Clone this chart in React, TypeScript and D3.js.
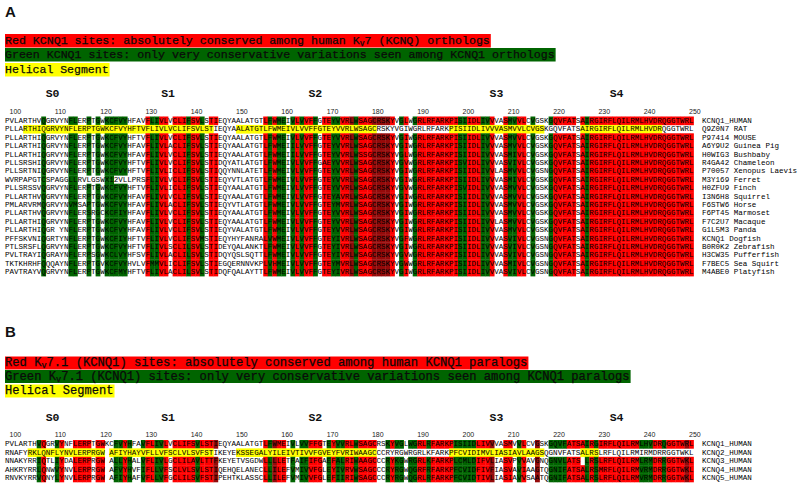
import React from 'react';
import * as d3 from 'd3';

const FIRST_RESIDUE = 99;
const N_COLUMNS = 152;

const positionTicks = [100, 110, 120, 130, 140, 150, 160, 170, 180, 190, 200, 210, 220, 230, 240, 250];
const segmentLabels = ['S0', 'S1', 'S2', 'S3', 'S4'];
const segmentCenters = [109, 134.5, 167, 207, 233.5];

const orthologNames = [
  'KCNQ1_HUMAN', 'Q9Z0N7 RAT', 'P97414 MOUSE', 'A6Y9U2 Guinea Pig', 'H0WIG3 Bushbaby',
  'R4GA42 Chameleon', 'P70057 Xenopus Laevis', 'M3Y169 Ferret', 'H0ZFU9 Finch', 'I3N6H8 Squirrel',
  'F6STW6 Horse', 'F6PT45 Marmoset', 'F7C2U7 Macaque', 'G1L5M3 Panda', 'KCNQ1 Dogfish',
  'B0R0K2 Zebrafish', 'H3CW35 Pufferfish', 'F7BEC5 Sea Squirt', 'M4ABE0 Platyfish',
];

// residues 99-154
const orthologSeqStart = [
  'PVLARTHVQGRVYNFLERPTGWKCFVYHFAVFLIVLVCLIFSVLSTIEQYAALATG',
  'PLLARTHIQGRVYNFLERPTGWKCFVYHFTVFLIVLVCLIFSVLSTIEQYAALATG',
  'PLLARTHIQGRVYNFLERPTGWKCFVYHFTVFLIVLVCLIFSVLSTIEQYAALATG',
  'PLLARTHIQGRVYNFLERPTGWKCFVYHFAVFLIVLACLIFSVLSTIEQYAALATG',
  'PLLARTHIQGRVYNFLERPTGWKCFVYHFAVFLIVLVCLIFSVLSTIEQYAALATG',
  'PLLSRSHIQGRVYNFLERPTGWKCFVYHFTVFLIVLVCLIFSVLSTIDQYATLATG',
  'PLLSRTNIQGRVYNFLERPTGWKCFVYHFTVFLIVLICLIFSVLSTIQQYNNLATE',
  'WVRPAPGTCSPAGGLLRVLGSWX12VLLPRSFLIVLVCLIFSVLSTIEQYVTLATG',
  'PLLSRSSVQGRVYNFLERPTGWKCFVYHFTVFLIVLICLIFSVLSTIEQYAALATG',
  'PLLARTHVQGRVYNFLERPTGWKCFVYHFAVFLIVLVCLIFSVLSTIEQYAALATG',
  'PMLARVRMQGRVYNVMSAPTGWKCFVYHFAVFLIVLACLIFSVLSTIEQYVTLATG',
  'PLLARTHVQGRVYNFLERSRGCKCFIYHFAVFLIVLVCLIFSVLSTIEQYAALATG',
  'PLLARTHIQGRVYNFLERPTGWKCFVYHFAVFLIVLVCLIFSVLSTIEQYAALATG',
  'PLLARTHIQGR YNFLERPTGWKCFVYHFAVFLIVLVCLIFSVLSTIEQYVALATG',
  'PFFSKVNIQGRTYNFLERPTGWKCFIYHFTVFLIVLVCLIFSVMSTIEQYHYFANR',
  'PTLSRSFLQGRVYNFLERPTGWKCFVYHFTVFLIVLSCLILSVLSTIDEYQALANK',
  'PVLTRAYIQGRAYNFLERPSGWKCLVYHFSVFLIVLACLILSVLSTIDQYQSLSQT',
  'TKTKHRHFQQQAYNFLERPTGVKCFVYHVLVFMMVLICLIFSVLSTIEGQERNNVK',
  'PAVTRAYVQGRVYNFLERPTGWKCFMYHFTVFLIVLACLILSVLSTIDQFQALAYT',
];

// residues 155-214
const orthologSeqMiddle = [
  'TLFWMEIVLVVFFGTEYVVRLWSAGCRSKYVGLWGRLRFARKPISIIDLIVVVASMVVLC',
  'TLFWMEIVLVVFFGTEYVVRLWSAGCRSKYVGIWGRLRFARKPISIIDLIVVVASMVVLC',
  'TLFWMEIVLVVFFGTEYVVRLWSAGCRSKYVGIWGRLRFARKPISIIDLIVVVASMVVLC',
  'TLFWMEIILVVFFGTEYVVRLWSAGCRSKYVGIWGRLRFARKPISIIDLIVVVASMVVLC',
  'TLFWMEIILVVFFGTEYVVRLWSSGCRSKYVGLWGRLRFARKPISIIDLIVVVASMIVLC',
  'TLFWMEIVLVVFFGAEYVVRLWSAGCRSKYVGVWGRLRFARKPISVIDLIVVVASVIVLC',
  'TLFWMEIVLVVFFGTEYVVRLWSAGCRSKYVGIWGRLRFARKPISIIDLIVVLASMVVLC',
  'TLFWMEIVLVVFFGTEYVVRLWSAGCRSKYVGIWGRLRFARKPISIIDLIVVVASMIVLC',
  'TLFWMEIVLVVFFGTEYVVRLWSAGCRSKYVGVWGRLRFARKPISVIDLIVVVASMVVLC',
  'TLFWMEIVLVVFFGTEYAVRLWSAGCRSKYVGIWGRLRFARKPISIIDLIVVVASMVVLC',
  'TLFWMEIVLVVFFGTEYMVRLWSAGCRSKYVGIWGRLRFARKPISIIDLIVVVASMVVLC',
  'TLFWMEIVLVVFFGTEYVVRLWSAGCRSKYVGIWGRLRFARKPISIIDLIVVVASMVVLC',
  'TLFWMEIVLVVFFGTEYVVRLWSAGCRSKYVGIWGRLRFARKPISIIDLIVVLASMVVLC',
  'TLFWMEIVLVVFFGTEYVVRLWSAGCRSKYVGIWGRLRFARKPISIIDLIVVVASMVVLC',
  'ALVWMEIVLVVFFGTEYIVRLWSAGCRSKYVGFWGRLRFARKPISIIDLIVVVASVIVLC',
  'TLFWMEIVLVVFFGTEYIVRLWSAGCRSKYVGIWGRLRFARKPISIIDLIVVVASVIVLC',
  'TLFWMEIVLVVFFGTEYIVRLWSAGCRSKYVGVWGRLRFARKPISIIDLIVVVASVIVLC',
  'PLVHMEIVLVVFFGTEYMVRLWSAGCRSKYVGWWGRLRFARKPISIIDLIVVVASMIVLC',
  'TLFWMEIVLVVFFGTEYIVRLWSAGCRSKYVGIWGRLRFARKPISIIDLIVVVASVIVLC',
];

// residues 215-250
const orthologSeqEnd = [
  'VGSKGQVFATSAIRGIRFLQILRMLHVDRQGGTWRL', 'VGSKGQVFATSAIRGIRFLQILRMLHVDRQGGTWRL',
  'VGSKGQVFATSAIRGIRFLQILRMLHVDRQGGTWRL', 'VGSKGQVFATSAIRGIRFLQILRMLHVDRQGGTWRL',
  'VGSKGQVFATSAIRGIRFLQILRMLHVDRQGGTWRL', 'VGSKGQVFATSAIRGIRFLQILRMLHVDRQGGTWRL',
  'VGSNGQVFATSAIRGIRFLQILRMLHVDRQGGTWRL', 'VGSKGQVFATSAIRGIRFLQILRMLHVDRQGGTWRL',
  'VGSKGQVFATSAIRGIRFLQILRMLHVDRQGGTWRL', 'VGSKGQVFATSAIRGIRFLQILRMLHVDRQGGTWRL',
  'VGSKGQVFATSAIRGIRFLQILRMLHVDRQGGTWRL', 'VGSKGQVFATSAIRGIRFLQILRMLHVDRQGGTWRL',
  'VGSKGQVFATSAIRGIRFLQILRMLHVDRQGGTWRL', 'VGSKGQVFATSAIRGIRFLQILRMLHVDRQGGTWRL',
  'VGSNGQVFATSAIRGIRFLQILRMLHVDRQGGTWRL', 'VGSNGQVFATSAIRGIRFLQILRMLHVDRQGGTWRL',
  'VGSNGQVFATSAIRGIRFLQILRMLHVDRQGGTWRL', 'VGSNGQVFATSAIRGIRFLQILRMLHVDRQGGTWRL',
  'VGSNGQVFATSAIRGIRFLQILRMLHVDRQGGTWRL',
];

// [first residue, last residue, class] r = conserved, g = conservative, d = dark red
const orthologConservation: [number, number, string][] = [
  [107, 107, 'g'], [113, 114, 'g'], [117, 117, 'g'], [119, 119, 'g'], [121, 125, 'g'],
  [130, 130, 'r'], [131, 132, 'g'], [133, 134, 'r'], [136, 138, 'r'], [139, 139, 'g'],
  [140, 141, 'r'], [142, 142, 'g'], [144, 145, 'r'], [156, 156, 'r'], [157, 157, 'g'],
  [158, 158, 'r'], [159, 160, 'g'], [162, 162, 'g'], [163, 163, 'r'], [164, 164, 'g'],
  [165, 166, 'r'], [167, 167, 'g'], [169, 170, 'r'], [171, 172, 'g'], [173, 174, 'r'],
  [175, 175, 'd'], [176, 176, 'g'], [177, 179, 'r'], [180, 183, 'd'], [184, 184, 'r'],
  [186, 186, 'g'], [187, 187, 'r'], [189, 189, 'g'], [190, 198, 'r'], [199, 200, 'g'],
  [201, 203, 'r'], [204, 205, 'g'], [206, 206, 'r'], [209, 209, 'r'], [210, 211, 'g'],
  [212, 213, 'r'], [215, 215, 'g'], [219, 219, 'g'], [220, 224, 'r'], [226, 226, 'r'],
  [227, 227, 'g'], [228, 250, 'r'],
];
const orthologHelices: [number, number][] = [[103, 144], [150, 180], [197, 217], [226, 243]];
const orthologHelixRow = 1;
const ferretRow = 7;
const ferretUnshaded = [117, 119, 123, 124, 125];

const paralogNames = ['KCNQ1_HUMAN', 'KCNQ2_HUMAN', 'KCNQ3_HUMAN', 'KCNQ4_HUMAN', 'KCNQ5_HUMAN'];
const paralogSeqs = [
  'PVLARTHVQGRVYNFLERPTGWKCFVYHFAVFLIVLVCLIFSVLSTIEQYAALATGTLFWMEIVLVVFFGTEYVVRLWSAGCRSKYVGLWGRLRFARKPISIIDLIVVVASMVVLCVGSKGQVFATSAIRGIRFLQILRMLHVDRQGGTWRL',
  'RNAFYRKLQNFLYNVLERPRGW-AFIYHAYVFLLVFSCLVLSVFSTIKEYEKSSEGALYILEIVTIVVFGVEYFVRIWAAGCCCRYRGWRGRLKFARKPFCVIDIMVLIASIAVLAAGSQGNVFATSALRSLRFLQILRMIRMDRRGGTWKL',
  'NNAKYRRIQTLIYDALERPRGW-ALLYHALVFLIVLGCLILAVLTTFKEYETVSGDWLLLLETFAIFIFGAEFALRIWAAGCCCRYKGWRGRLKFARKPLCMLDIFVLIASVPVVAVGNQGNVLATS-LRSLRFLQILRMLRMDRRGGTWKL',
  'AHKRYRRLQNWVYNVLERPRGW-AFVYHVFIFLLVFSCLVLSVLSTIQEHQELANECLLILEFVMIVVFGLEYIVRVWSAGCCCRYRGWQGRFRFARKPFCVIDFIVFIASVAVIAAGTQGNIFATSALRSMRFLQILRMVRMDRRGGTWKL',
  'RNVKYRRVQNYLYNVLERPRGW-AFIYHAFVFLLVFGCLILSVFSTIPEHTKLASSCLLILEFVMIVVFGLEFIIRIWSAGCCCRYRGWQGRLRFARKPFCVIDTIVLIASIAVVSAATQGNIFATSALRSLRFLQILRMVRMDRRGGTWKL',
];
const paralogConservation: [number, number, string][] = [
  [106, 106, 'g'], [107, 107, 'r'], [110, 110, 'g'], [111, 111, 'r'], [114, 117, 'r'],
  [119, 120, 'r'], [123, 124, 'g'], [125, 125, 'r'], [126, 126, 'g'], [129, 129, 'g'],
  [130, 131, 'r'], [132, 133, 'g'], [134, 134, 'r'], [136, 140, 'r'], [141, 141, 'g'],
  [142, 144, 'r'], [145, 145, 'd'], [156, 156, 'r'], [157, 157, 'g'], [158, 158, 'd'],
  [159, 160, 'r'], [162, 162, 'g'], [164, 165, 'g'], [166, 168, 'r'], [170, 170, 'g'],
  [171, 171, 'r'], [172, 173, 'g'], [174, 175, 'r'], [176, 176, 'g'], [177, 180, 'r'],
  [183, 183, 'g'], [184, 184, 'r'], [185, 186, 'g'], [188, 189, 'g'], [190, 191, 'r'],
  [192, 192, 'g'], [193, 197, 'r'], [198, 202, 'g'], [203, 205, 'r'], [206, 206, 'd'],
  [209, 210, 'r'], [212, 212, 'g'], [213, 213, 'r'], [216, 216, 'd'], [219, 222, 'g'],
  [223, 226, 'r'], [227, 227, 'g'], [228, 228, 'r'], [229, 229, 'g'], [230, 238, 'r'],
  [239, 241, 'g'], [242, 243, 'r'], [244, 244, 'g'], [245, 248, 'r'], [249, 249, 'd'],
  [250, 250, 'r'],
];
const paralogHelices: [number, number][] = [[104, 120], [122, 144], [150, 180], [197, 217], [226, 229]];
const paralogHelixRow = 1;

const legendA = [
  { cls: 'r', parts: ['Red KCNQ1 sites: absolutely conserved among human K', 'v', '7 (KCNQ) orthologs'] },
  { cls: 'g', parts: ['Green KCNQ1 sites: only very conservative variations seen among KCNQ1 orthologs'] },
  { cls: 'y', parts: ['Helical Segment'] },
];
const legendB = [
  { cls: 'r', parts: ['Red K', 'v', '7.1 (KCNQ1) sites: absolutely conserved among human KCNQ1 paralogs'] },
  { cls: 'g', parts: ['Green K', 'v', '7.1 (KCNQ1) sites: only very conservative variations seen among KCNQ1 paralogs'] },
  { cls: 'y', parts: ['Helical Segment'] },
];

const COLORS: Record<string, string> = { r: '#ff0000', g: '#006400', d: '#950a0a', y: '#ffff00' };
const MONO = '"Liberation Mono", "Courier New", monospace';
const SANS = '"Liberation Sans", Arial, sans-serif';

const X0 = 5;
const CW = 4.53;
const ROWH = 8.4;
const NAME_X = 702;

function runsToMap(runs: [number, number, string][]) {
  const m = new Map<number, string>();
  runs.forEach(([a, b, c]) => { for (let r = a; r <= b; r++) m.set(r, c); });
  return m;
}
function inRuns(runs: [number, number][], r: number) {
  return runs.some(([a, b]) => r >= a && r <= b);
}

const residues = d3.range(FIRST_RESIDUE, FIRST_RESIDUE + N_COLUMNS);
const xScale = d3.scaleBand<number>().domain(residues).range([X0, X0 + N_COLUMNS * CW]).padding(0);

function Legend({ top, items, charW, barH }: { top: number; items: typeof legendA; charW: number; barH: number }) {
  const fs = charW / 0.6;
  let y = top;
  return (
    <g>
      {items.map((it, i) => {
        const nChars = it.parts.reduce((s, p, k) => s + (it.parts.length === 3 && k === 1 ? 0.7 : p.length), 0);
        const w = nChars * charW;
        const yy = y;
        y += barH + (i === 1 ? 1.5 : 0.5);
        return (
          <g key={i}>
            <rect x={X0} y={yy} width={w} height={barH} fill={COLORS[it.cls]} />
            <text x={X0} y={yy + barH - 3.3} fontFamily={MONO} fontSize={fs} fill="#0a0a0a"
              stroke="#0a0a0a" strokeWidth={0.25}
              textLength={w - 1} lengthAdjust="spacingAndGlyphs" style={{ whiteSpace: 'pre' }}>
              {it.parts.map((p, k) =>
                it.parts.length === 3 && k === 1
                  ? <tspan key={k} fontSize={fs * 0.7} dy={2}>{p}</tspan>
                  : <tspan key={k} dy={it.parts.length === 3 && k === 2 ? -2 : 0}>{p}</tspan>)}
            </text>
          </g>
        );
      })}
    </g>
  );
}

function Alignment({ top, names, seqs, classOf }: {
  top: number; names: string[]; seqs: string[]; classOf: (row: number, res: number, ch: string) => string | null;
}) {
  const y = d3.scaleBand<string>().domain(names).range([top, top + names.length * ROWH]).padding(0);
  const bw = xScale.bandwidth();
  const centers = residues.map((r) => ((xScale(r) as number) + bw / 2).toFixed(2)).join(' ');
  return (
    <g>
      {names.map((n, i) => {
        const seq = seqs[i].padEnd(N_COLUMNS, ' ').slice(0, N_COLUMNS);
        const yt = y(n) as number;
        return (
          <g key={n}>
            {residues.map((res, j) => {
              const cls = classOf(i, res, seq[j]);
              if (!cls) return null;
              return <rect key={res} x={xScale(res)} y={yt} width={bw + 0.3} height={y.bandwidth() + 0.3} fill={COLORS[cls]} />;
            })}
            <text x={centers} y={yt + 6.4} textAnchor="middle" fontFamily={MONO} fontSize={7.55} fill="#000"
              style={{ whiteSpace: 'pre' }}>{seq.replace(/-/g, ' ')}</text>
            <text x={NAME_X} y={yt + 6.4} fontFamily={MONO} fontSize={7.55} fill="#000" style={{ whiteSpace: 'pre' }}>{n}</text>
          </g>
        );
      })}
    </g>
  );
}

function Ruler({ segY, tickY }: { segY: number; tickY: number }) {
  const bw = xScale.bandwidth();
  return (
    <g>
      {segmentLabels.map((s, i) => {
        const r = Math.floor(segmentCenters[i]);
        const cx = (xScale(r) as number) + bw / 2 + (segmentCenters[i] - r) * bw;
        return <text key={s} x={cx} y={segY} textAnchor="middle" fontFamily={MONO} fontWeight="bold" fontSize={11.5} fill="#111">{s}</text>;
      })}
      {positionTicks.map((t) => (
        <text key={t} x={xScale(t)} y={tickY} fontFamily={SANS} fontSize={7} fill="#222">{t}</text>
      ))}
    </g>
  );
}

export default function App() {
  const orthologSeqs = orthologSeqStart.map((s, i) => s + orthologSeqMiddle[i] + orthologSeqEnd[i]);
  const oCons = runsToMap(orthologConservation);
  const pCons = runsToMap(paralogConservation);

  const orthologClass = (row: number, res: number, ch: string) => {
    if (row === orthologHelixRow) return inRuns(orthologHelices, res) ? 'y' : null;
    if (ch === ' ' || ch === '-') return null;
    if (row === ferretRow && ferretUnshaded.includes(res)) return null;
    return oCons.get(res) || null;
  };
  const paralogClass = (row: number, res: number, ch: string) => {
    if (row === paralogHelixRow) return inRuns(paralogHelices, res) && ch !== '-' ? 'y' : null;
    if (ch === ' ' || ch === '-') return null;
    return pCons.get(res) || null;
  };

  const B = 323.5;
  return (
    <svg width={800} height={488} style={{ position: 'absolute', left: 0, top: 0, background: '#fff' }}>
      <rect x={0} y={0} width={800} height={488} fill="#fff" />
      <text x={5} y={17} fontFamily={SANS} fontWeight="bold" fontSize={15} fill="#111">A</text>
      <Legend top={34} items={legendA} charW={6.97} barH={13.5} />
      <Ruler segY={97} tickY={113.5} />
      <Alignment top={116.5} names={orthologNames} seqs={orthologSeqs} classOf={orthologClass} />

      <text x={5} y={17 + 320} fontFamily={SANS} fontWeight="bold" fontSize={15} fill="#111">B</text>
      <Legend top={34 + B - 1} items={legendB} charW={7.3} barH={13} />
      <Ruler segY={97 + B} tickY={113.5 + B} />
      <Alignment top={116.5 + B} names={paralogNames} seqs={paralogSeqs} classOf={paralogClass} />
    </svg>
  );
}
